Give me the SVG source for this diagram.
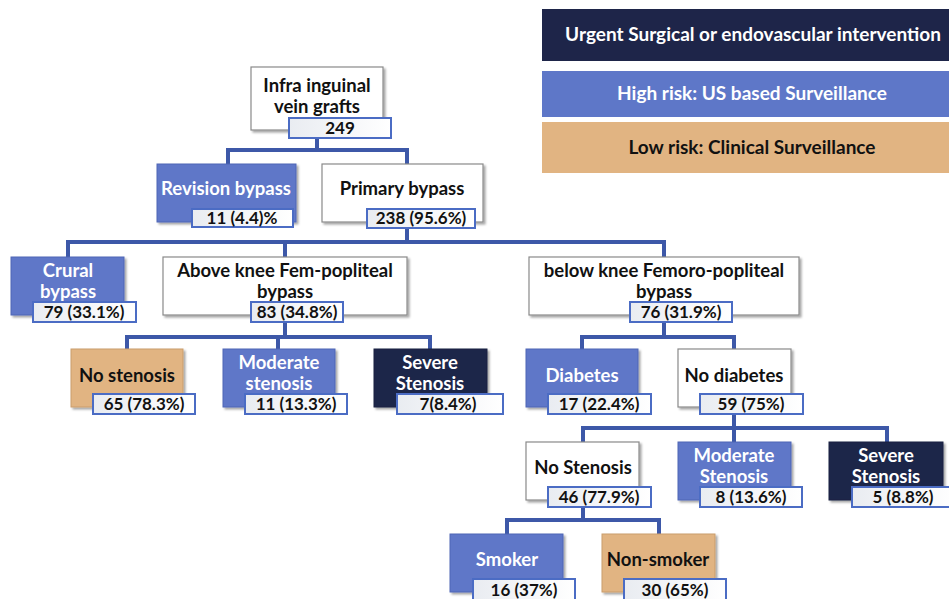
<svg xmlns="http://www.w3.org/2000/svg" width="949" height="599" viewBox="0 0 949 599">
  <defs>
    <filter id="shadow" x="-10%" y="-10%" width="130%" height="140%">
      <feDropShadow dx="2" dy="2" stdDeviation="1.2" flood-color="#000" flood-opacity="0.35"/>
    </filter>
    <linearGradient id="numFill" x1="0" y1="0" x2="1" y2="0">
      <stop offset="0" stop-color="#e9ecf1"/>
      <stop offset="1" stop-color="#ffffff"/>
    </linearGradient>
    <style>
      text { font-family: Lato, "Liberation Sans", sans-serif; font-weight: bold; font-size: 18.5px; text-anchor: middle; }
      text.n { font-size: 17px; }
      text.lg { font-size: 19px; }
      .dark { fill: #111; }
      .light { fill: #fff; }
      .navy { fill: #1e2549; stroke: #1a2040; stroke-width: 1; filter: url(#shadow); }
      .blue { fill: #5e77c8; stroke: #4f67b5; stroke-width: 1; filter: url(#shadow); }
      .tan { fill: #e1b482; stroke: #c99d6d; stroke-width: 1; filter: url(#shadow); }
      .white { fill: #fff; stroke: #8a8a8a; stroke-width: 1.2; filter: url(#shadow); }
      .num { fill: url(#numFill); stroke: #4b6cc4; stroke-width: 2; }
      .legend { stroke: none; }
      .link { fill: none; stroke: #3d58a8; stroke-width: 4; stroke-linejoin: miter; stroke-linecap: butt; }
    </style>
  </defs>

  <!-- legend -->
  <g id="legend">
    <g id="legend-urgent">
      <rect class="legend" x="542" y="9" width="410" height="52" fill="#1e2549"/>
      <text class="light lg" x="753" y="41">Urgent Surgical or endovascular intervention</text>
    </g>
    <g id="legend-high">
      <rect class="legend" x="542" y="71" width="410" height="46" fill="#5e77c8"/>
      <text class="light lg" x="752" y="100">High risk: US based Surveillance</text>
    </g>
    <g id="legend-low">
      <rect class="legend" x="542" y="122" width="410" height="51" fill="#e1b482"/>
      <text class="dark lg" x="752" y="154">Low risk: Clinical Surveillance</text>
    </g>
  </g>

  <!-- connectors -->
  <g id="connectors">
    <path class="link" d="M317,130 V150 M228,164 V150 H407 V164"/>
    <path class="link" d="M407,228 V242 M68,257 V242 H664 V257 M285,242 V257"/>
    <path class="link" d="M285,322 V337 M127,349 V337 H430 V349 M278,337 V349"/>
    <path class="link" d="M664,322 V337 M582,349 V337 H734 V349"/>
    <path class="link" d="M734,414 V428 M583,442 V428 H887 V442 M734,428 V442"/>
    <path class="link" d="M583,507 V520 M507,534 V520 H659 V534"/>
  </g>

  <!-- nodes -->
  <g id="root">
    <rect class="white" x="251" y="67" width="132" height="63"/>
    <text class="dark" x="317" y="92">Infra inguinal</text>
    <text class="dark" x="317" y="113">vein grafts</text>
    <rect class="num" x="289" y="118" width="102" height="20"/>
    <text class="dark n" x="340" y="134">249</text>
  </g>

  <g id="revision">
    <rect class="blue" x="157" y="164" width="139" height="58"/>
    <text class="light" x="226" y="195">Revision bypass</text>
    <rect class="num" x="192" y="209" width="101" height="18"/>
    <text class="dark n" x="242" y="224">11 (4.4)%</text>
  </g>

  <g id="primary">
    <rect class="white" x="322" y="164" width="161" height="58"/>
    <text class="dark" x="402" y="195">Primary bypass</text>
    <rect class="num" x="367" y="209" width="108" height="19"/>
    <text class="dark n" x="421" y="224">238 (95.6%)</text>
  </g>

  <g id="crural">
    <rect class="blue" x="11" y="257" width="113" height="58"/>
    <text class="light" x="68" y="277">Crural</text>
    <text class="light" x="68" y="298">bypass</text>
    <rect class="num" x="33" y="302" width="103" height="20"/>
    <text class="dark n" x="84" y="318">79 (33.1%)</text>
  </g>

  <g id="above-knee">
    <rect class="white" x="163" y="257" width="244" height="58"/>
    <text class="dark" x="285" y="277">Above knee Fem-popliteal</text>
    <text class="dark" x="285" y="298">bypass</text>
    <rect class="num" x="251" y="302" width="92" height="20"/>
    <text class="dark n" x="297" y="318">83 (34.8%)</text>
  </g>

  <g id="below-knee">
    <rect class="white" x="529" y="257" width="270" height="58"/>
    <text class="dark" x="664" y="277">below knee Femoro-popliteal</text>
    <text class="dark" x="664" y="298">bypass</text>
    <rect class="num" x="630" y="302" width="102" height="20"/>
    <text class="dark n" x="681" y="318">76 (31.9%)</text>
  </g>

  <g id="ak-no-stenosis">
    <rect class="tan" x="71" y="349" width="112" height="58"/>
    <text class="dark" x="127" y="382">No stenosis</text>
    <rect class="num" x="93" y="394" width="102" height="20"/>
    <text class="dark n" x="144" y="410">65 (78.3%)</text>
  </g>

  <g id="ak-moderate">
    <rect class="blue" x="223" y="349" width="112" height="58"/>
    <text class="light" x="279" y="369">Moderate</text>
    <text class="light" x="279" y="390">stenosis</text>
    <rect class="num" x="245" y="394" width="102" height="20"/>
    <text class="dark n" x="296" y="410">11 (13.3%)</text>
  </g>

  <g id="ak-severe">
    <rect class="navy" x="374" y="349" width="113" height="58"/>
    <text class="light" x="430" y="369">Severe</text>
    <text class="light" x="430" y="390">Stenosis</text>
    <rect class="num" x="397" y="394" width="106" height="20"/>
    <text class="dark n" x="448" y="410">7(8.4%)</text>
  </g>

  <g id="diabetes">
    <rect class="blue" x="526" y="349" width="112" height="58"/>
    <text class="light" x="582" y="382">Diabetes</text>
    <rect class="num" x="548" y="394" width="103" height="20"/>
    <text class="dark n" x="599" y="410">17 (22.4%)</text>
  </g>

  <g id="no-diabetes">
    <rect class="white" x="678" y="349" width="113" height="58"/>
    <text class="dark" x="734" y="382">No diabetes</text>
    <rect class="num" x="700" y="394" width="103" height="20"/>
    <text class="dark n" x="751" y="410">59 (75%)</text>
  </g>

  <g id="bk-no-stenosis">
    <rect class="white" x="526" y="442" width="113" height="58"/>
    <text class="dark" x="583" y="474">No Stenosis</text>
    <rect class="num" x="548" y="487" width="103" height="20"/>
    <text class="dark n" x="599" y="503">46 (77.9%)</text>
  </g>

  <g id="bk-moderate">
    <rect class="blue" x="678" y="442" width="113" height="58"/>
    <text class="light" x="734" y="462">Moderate</text>
    <text class="light" x="734" y="483">Stenosis</text>
    <rect class="num" x="700" y="487" width="102" height="20"/>
    <text class="dark n" x="751" y="503">8 (13.6%)</text>
  </g>

  <g id="bk-severe">
    <rect class="navy" x="829" y="442" width="114" height="58"/>
    <text class="light" x="886" y="462">Severe</text>
    <text class="light" x="886" y="483">Stenosis</text>
    <rect class="num" x="852" y="487" width="104" height="20"/>
    <text class="dark n" x="903" y="503">5 (8.8%)</text>
  </g>

  <g id="smoker">
    <rect class="blue" x="450" y="534" width="113" height="58"/>
    <text class="light" x="507" y="566">Smoker</text>
    <rect class="num" x="473" y="579" width="102" height="21"/>
    <text class="dark n" x="524" y="596">16 (37%)</text>
  </g>

  <g id="non-smoker">
    <rect class="tan" x="602" y="534" width="113" height="58"/>
    <text class="dark" x="658" y="566">Non-smoker</text>
    <rect class="num" x="624" y="579" width="102" height="21"/>
    <text class="dark n" x="675" y="596">30 (65%)</text>
  </g>
</svg>
